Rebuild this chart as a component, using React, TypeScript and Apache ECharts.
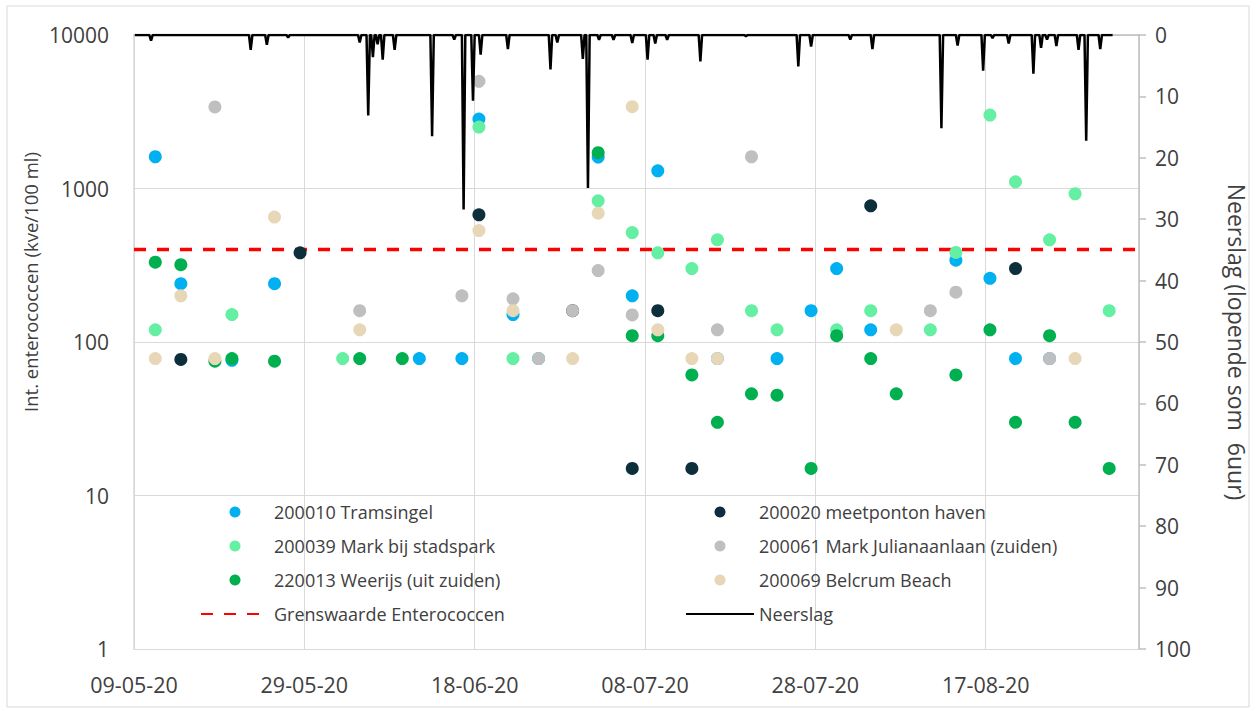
import React, { useEffect, useRef } from 'react';
import * as echarts from 'echarts';

const FONT = '"Open Sans", "Noto Sans", sans-serif';
const TEXT = '#404040';

// x axis (days since 09-05-20), tick every 20 days
const X_MAX_DAY = 118;
const X_TICK_INTERVAL = 20;

// Sample values per station: [date dd-mm (2020), kve/100 ml]
const tramsingel: [string, number][] = [
  ['11-05', 1610], ['14-05', 240], ['20-05', 76], ['25-05', 240], ['11-06', 78], ['16-06', 78],
  ['18-06', 2835], ['22-06', 151], ['25-06', 78], ['02-07', 1603], ['06-07', 200], ['09-07', 1304],
  ['16-07', 78], ['23-07', 78], ['27-07', 160], ['30-07', 301], ['03-08', 120], ['13-08', 341],
  ['17-08', 260], ['20-08', 78], ['24-08', 78],
];
const meetponton: [string, number][] = [
  ['14-05', 77], ['28-05', 381], ['18-06', 674], ['29-06', 160], ['06-07', 15], ['09-07', 160],
  ['13-07', 15], ['03-08', 771], ['20-08', 301],
];
const markStadspark: [string, number][] = [
  ['11-05', 120], ['20-05', 151], ['02-06', 78], ['18-06', 2515], ['22-06', 78], ['02-07', 831],
  ['06-07', 516], ['09-07', 381], ['13-07', 301], ['16-07', 463], ['20-07', 160], ['23-07', 120],
  ['30-07', 120], ['03-08', 160], ['10-08', 120], ['13-08', 383], ['17-08', 3010], ['20-08', 1105],
  ['24-08', 463], ['27-08', 923], ['31-08', 160],
];
const markJuliana: [string, number][] = [
  ['18-05', 3400], ['04-06', 160], ['16-06', 200], ['18-06', 4990], ['22-06', 191], ['25-06', 78],
  ['29-06', 160], ['02-07', 292], ['06-07', 150], ['16-07', 120], ['20-07', 1610], ['10-08', 160],
  ['13-08', 211], ['24-08', 78],
];
const weerijs: [string, number][] = [
  ['11-05', 331], ['14-05', 319], ['18-05', 75], ['20-05', 78], ['25-05', 75], ['04-06', 78],
  ['09-06', 78], ['02-07', 1710], ['06-07', 110], ['09-07', 110], ['13-07', 61], ['16-07', 30],
  ['20-07', 46], ['23-07', 45], ['27-07', 15], ['30-07', 110], ['03-08', 78], ['06-08', 46],
  ['13-08', 61], ['17-08', 120], ['20-08', 30], ['24-08', 110], ['27-08', 30], ['31-08', 15],
];
const belcrum: [string, number][] = [
  ['11-05', 78], ['14-05', 200], ['18-05', 78], ['25-05', 651], ['04-06', 120], ['18-06', 532],
  ['22-06', 160], ['29-06', 78], ['02-07', 691], ['06-07', 3410], ['09-07', 120], ['13-07', 78],
  ['16-07', 78], ['06-08', 120], ['27-08', 78],
];

const GRENSWAARDE = 400;

// Rainfall (rolling 6 h sum): peaks at [day since 09-05, mm]; baseline 0 in between
const neerslagStart = 0.1;
const neerslagEnd = 114.9;
const neerslagPeaks: [number, number][] = [
  [2.0, 0.9], [13.7, 2.4], [15.6, 1.6], [18.1, 0.4], [26.5, 1.2], [27.5, 13.1], [28.05, 3.6],
  [28.6, 1.5], [29.2, 4.0], [30.6, 2.4], [35.0, 16.5], [37.6, 0.75], [38.7, 28.4], [39.8, 10.7],
  [40.7, 3.2], [43.9, 2.3], [48.9, 5.6], [49.7, 1.2], [52.7, 3.9], [53.3, 24.9], [54.6, 0.8],
  [56.3, 0.8], [58.5, 1.3], [60.3, 4.0], [61.2, 1.4], [62.6, 0.8], [66.5, 4.3], [71.85, 0.2],
  [78.0, 5.1], [79.5, 1.9], [84.1, 0.75], [86.7, 2.3], [94.8, 15.2], [96.7, 1.7], [99.7, 5.8],
  [100.8, 0.5], [102.7, 1.4], [105.6, 6.3], [106.5, 2.1], [107.2, 0.75], [108.3, 1.8],
  [110.9, 2.4], [111.8, 17.2], [113.45, 2.3],
];

const START = Date.UTC(2020, 4, 9);
const DAY = 86400000;
function dayOf(ddmm: string): number {
  const [d, m] = ddmm.split('-').map(Number);
  return (Date.UTC(2020, m - 1, d) - START) / DAY + 0.5;
}
function dayLabel(v: number): string {
  const dt = new Date(START + v * DAY);
  const dd = String(dt.getUTCDate()).padStart(2, '0');
  const mm = String(dt.getUTCMonth() + 1).padStart(2, '0');
  return `${dd}-${mm}-20`;
}

const stations = [
  { name: '200010 Tramsingel', data: tramsingel, color: '#00B0F0' },
  { name: '200020 meetponton haven', data: meetponton, color: '#0D2F3C' },
  { name: '200039 Mark bij stadspark', data: markStadspark, color: '#64EFA2' },
  { name: '200061 Mark Julianaanlaan (zuiden)', data: markJuliana, color: '#BFBFBF' },
  { name: '220013 Weerijs (uit zuiden)', data: weerijs, color: '#00B050' },
  { name: '200069 Belcrum Beach', data: belcrum, color: '#E7D7B7' },
];

export default function App() {
  const ref = useRef<HTMLDivElement>(null);
  useEffect(() => {
    if (!ref.current) return;
    const chart = echarts.init(ref.current, null, { renderer: 'svg' });

    const rain: [number, number][] = [[neerslagStart, 0]];
    neerslagPeaks.forEach(([d, v]) => {
      rain.push([d - 0.2, 0], [d, v], [d + 0.2, 0]);
    });
    rain.push([neerslagEnd, 0]);

    const legendText = { fontSize: 18, color: TEXT, fontFamily: FONT, lineHeight: 24 };
    const noDot = { opacity: 0 };

    chart.setOption({
      animation: false,
      backgroundColor: '#ffffff',
      textStyle: { fontFamily: FONT },
      grid: { left: 134, right: 115, top: 35, bottom: 64 },
      graphic: [
        {
          type: 'rect',
          shape: { x: 7, y: 6, width: 1242, height: 701 },
          style: { fill: 'none', stroke: '#D9D9D9', lineWidth: 1 },
          silent: true,
          z: -10,
        },
        {
          type: 'text',
          x: 30,
          y: 282,
          rotation: Math.PI / 2,
          style: {
            text: 'Int. enterococcen (kve/100 ml)',
            fontSize: 18.5,
            fontFamily: FONT,
            fill: TEXT,
            align: 'center',
            verticalAlign: 'middle',
          },
          silent: true,
        },
      ],
      legend: [
        {
          orient: 'vertical',
          left: 195,
          top: 495,
          itemWidth: 68,
          itemHeight: 11,
          itemGap: 10,
          textStyle: legendText,
          data: [
            stations[0].name,
            stations[2].name,
            stations[4].name,
            { name: 'Grenswaarde Enterococcen', itemStyle: noDot },
          ],
        },
        {
          orient: 'vertical',
          left: 680,
          top: 495,
          itemWidth: 68,
          itemHeight: 11,
          itemGap: 10,
          textStyle: legendText,
          data: [stations[1].name, stations[3].name, stations[5].name, { name: 'Neerslag', itemStyle: noDot }],
        },
      ],
      xAxis: {
        type: 'value',
        min: 0,
        max: X_MAX_DAY,
        interval: X_TICK_INTERVAL,
        axisLine: { show: true, lineStyle: { color: '#BFBFBF', width: 1.5 } },
        axisTick: { show: false },
        axisLabel: {
          fontSize: 21.5,
          color: TEXT,
          fontFamily: FONT,
          margin: 24,
          formatter: (v: number) => dayLabel(v),
          showMaxLabel: false,
        },
        splitLine: { show: true, lineStyle: { color: '#D9D9D9', width: 1 } },
      },
      yAxis: [
        {
          type: 'log',
          logBase: 10,
          min: 1,
          max: 10000,
          position: 'left',
          axisLine: { show: true, lineStyle: { color: '#D9D9D9', width: 1.5 } },
          axisTick: { show: false },
          axisLabel: {
            fontSize: 21,
            color: TEXT,
            fontFamily: FONT,
            margin: 25,
            formatter: (v: number) => String(Math.round(v)),
          },
          splitLine: { show: true, lineStyle: { color: '#D9D9D9', width: 1 } },
          minorTick: { show: false },
        },
        {
          type: 'value',
          min: 0,
          max: 100,
          interval: 10,
          inverse: true,
          position: 'right',
          name: 'Neerslag (lopende som  6uur)',
          nameLocation: 'middle',
          nameGap: 86,
          nameRotate: -90,
          nameTextStyle: { fontSize: 23, color: TEXT, fontFamily: FONT },
          axisLine: { show: true, lineStyle: { color: '#BFBFBF', width: 1.5 } },
          axisTick: { show: true, inside: false, length: 7, lineStyle: { color: '#BFBFBF', width: 1.5 } },
          axisLabel: { fontSize: 21, color: TEXT, fontFamily: FONT, margin: 16 },
          splitLine: { show: false },
        },
      ],
      series: [
        {
          name: 'Grenswaarde Enterococcen',
          type: 'line',
          yAxisIndex: 0,
          data: [[0, GRENSWAARDE], [X_MAX_DAY, GRENSWAARDE]],
          symbol: 'none',
          lineStyle: { color: '#FF0000', width: 3.5, type: [12, 11] },
          itemStyle: { color: '#FF0000' },
          z: 2,
        },
        ...stations.map((s, i) => ({
          name: s.name,
          type: 'scatter',
          yAxisIndex: 0,
          data: s.data.map(([d, v]) => [dayOf(d), v]),
          symbol: 'circle',
          symbolSize: 13,
          itemStyle: { color: s.color, opacity: 1 },
          z: 3 + i * 0.01,
        })),
        {
          name: 'Neerslag',
          type: 'line',
          yAxisIndex: 1,
          data: rain,
          symbol: 'none',
          lineStyle: { color: '#000000', width: 2.5 },
          itemStyle: { color: '#000000' },
          z: 5,
        },
      ],
    });
    return () => chart.dispose();
  }, []);
  return (
    <div
      ref={ref}
      style={{ position: 'absolute', left: 0, top: 0, width: 1256, height: 713 }}
    />
  );
}
